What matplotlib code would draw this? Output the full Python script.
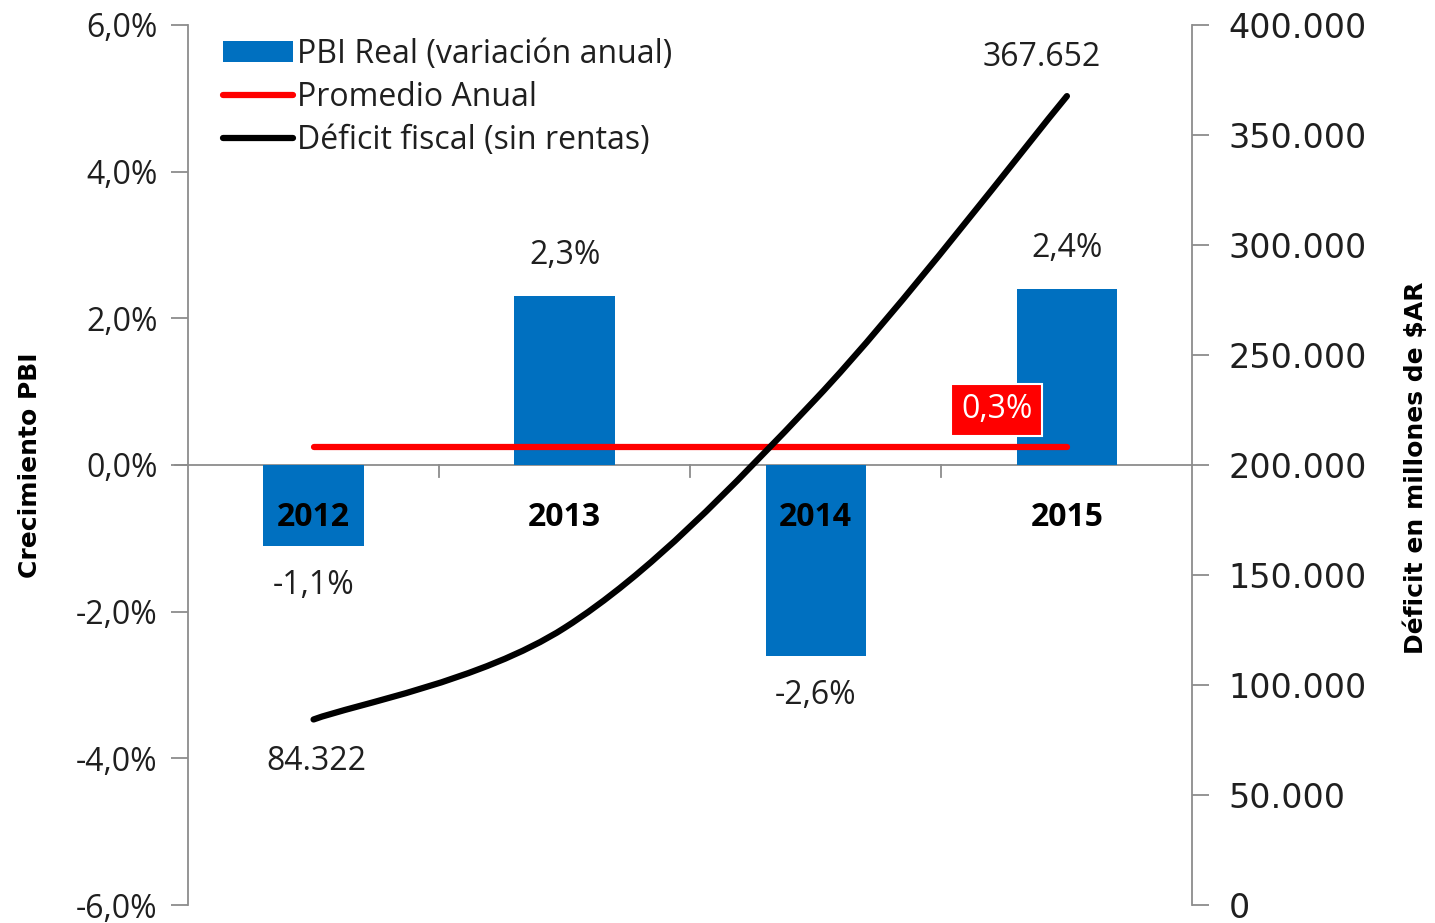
import matplotlib
matplotlib.use("Agg")
import matplotlib.pyplot as plt
import numpy as np
from matplotlib.path import Path
from matplotlib.patches import PathPatch
from matplotlib.lines import Line2D
from matplotlib.ticker import FuncFormatter, MultipleLocator

# Data
years = ["2012", "2013", "2014", "2015"]
pbi_growth = [-1.1, 2.3, -2.6, 2.4]          # % anual
pbi_labels = ["-1,1%", "2,3%", "-2,6%", "2,4%"]
promedio = [0.25, 0.25, 0.25, 0.25]          # promedio anual (0,3%)
promedio_label = "0,3%"
deficit = [84322, 126000, 230000, 367652]    # millones de $AR
deficit_labels = ["84.322", "", "", "367.652"]

BLUE = "#0070C0"
GRAY = "#8C8C8C"
TXT = "#1F1F1F"
BODY = ["Open Sans", "DejaVu Sans"]
NARROW = ["Liberation Sans Narrow", "DejaVu Sans"]
FS = 23

fig = plt.figure(figsize=(14.35, 9.23), dpi=100)
ax = fig.add_axes([0.131, 0.0195, 0.7, 0.9535])
ax2 = ax.twinx()
ax.set_zorder(ax2.get_zorder() - 1)
ax.patch.set_visible(False)

x = np.arange(len(years))

# bars
ax.bar(x, pbi_growth, width=0.4, color=BLUE, zorder=2)
ax.set_xlim(-0.5, len(years) - 0.5)
ax.set_ylim(-6, 6)
ax.yaxis.set_major_locator(MultipleLocator(2))
ax.yaxis.set_major_formatter(FuncFormatter(lambda v, p: f"{v:.1f}%".replace(".", ",")))

# zero axis line and category separators
ax.axhline(0, color=GRAY, lw=1.3, zorder=1)
for b in np.arange(0.5, len(years) - 1, 1.0):
    ax.plot([b, b], [0, -0.17], color=GRAY, lw=1.3, zorder=1, clip_on=False)
ax.plot([-0.5 - 0.05, -0.5], [0, 0], color=GRAY, lw=1.3, clip_on=False)
ax.set_xticks([])
for xi, yr in zip(x, years):
    ax.text(xi, -0.72, yr, ha="center", va="center", fontsize=FS,
            fontweight="bold", family=BODY, color="black", zorder=5)

# bar labels
for xi, v, lab in zip(x, pbi_growth, pbi_labels):
    off = 0.55 if v > 0 else -0.55
    ax.text(xi, v + off, lab, ha="center", va="center", fontsize=FS,
            family=BODY, color=TXT)

# average line
ax.plot(x, promedio, color="#FF0000", lw=4.5, solid_capstyle="round", zorder=3)
ax.text(x[-1] - 0.28, promedio[-1] + 0.5, promedio_label, ha="center", va="center",
        fontsize=FS, family=BODY, color="white", zorder=6,
        bbox=dict(boxstyle="square,pad=0.3", fc="#FF0000", ec="white", lw=1.5))

# spines/ticks left
for s in ["top", "bottom", "right"]:
    ax.spines[s].set_visible(False)
ax.spines["left"].set_color(GRAY)
ax.spines["left"].set_linewidth(1.3)
ax.tick_params(axis="y", direction="out", length=12, width=1.3, color=GRAY,
               labelsize=FS, labelcolor=TXT, pad=10)
for t in ax.get_yticklabels():
    t.set_family(BODY)
ax.set_ylabel("Crecimiento PBI", fontsize=18, fontweight="bold", family=NARROW)
ax.yaxis.set_label_coords(-0.145, 0.5)

# deficit smooth line (Catmull-Rom as cubic Bezier)
ax2.set_ylim(0, 400000)
pts = np.column_stack([x, deficit]).astype(float)
verts = [tuple(pts[0])]
codes = [Path.MOVETO]
n = len(pts)
for i in range(n - 1):
    p0 = pts[max(i - 1, 0)]
    p1 = pts[i]
    p2 = pts[i + 1]
    p3 = pts[min(i + 2, n - 1)]
    c1 = p1 + (p2 - p0) / 6.0
    c2 = p2 - (p3 - p1) / 6.0
    verts += [tuple(c1), tuple(c2), tuple(p2)]
    codes += [Path.CURVE4] * 3
patch = PathPatch(Path(verts, codes), fc="none", ec="black", lw=4.5,
                  capstyle="round", zorder=4)
ax2.add_patch(patch)
ax2.text(x[0] + 0.01, deficit[0] - 19000, deficit_labels[0], ha="center", va="center",
         fontsize=FS, family=BODY, color=TXT)
ax2.text(x[-1] - 0.1, deficit[-1] + 17500, deficit_labels[-1], ha="center",
         va="center", fontsize=FS, family=BODY, color=TXT)

ax2.yaxis.set_major_locator(MultipleLocator(50000))
ax2.yaxis.set_major_formatter(FuncFormatter(lambda v, p: f"{int(v):,}".replace(",", ".")))
for s in ["top", "bottom", "left"]:
    ax2.spines[s].set_visible(False)
ax2.spines["right"].set_color(GRAY)
ax2.spines["right"].set_linewidth(1.3)
ax2.tick_params(axis="y", direction="out", length=12, width=1.3, color=GRAY,
                labelsize=24, labelcolor=TXT, pad=14)
for t in ax2.get_yticklabels():
    t.set_family("DejaVu Sans")
ax2.set_ylabel("Déficit en millones de $AR", fontsize=18, fontweight="bold",
               family=NARROW)
ax2.yaxis.set_label_coords(1.21, 0.497)

# legend
handles = [
    plt.Rectangle((0, 0), 1, 1, fc=BLUE, ec="none"),
    Line2D([], [], color="#FF0000", lw=4.5, solid_capstyle="round"),
    Line2D([], [], color="black", lw=4.5, solid_capstyle="round"),
]
names = ["PBI Real (variación anual)", "Promedio Anual", "Déficit fiscal (sin rentas)"]
leg = ax2.legend(handles, names, loc="upper left", bbox_to_anchor=(0.022, 1.0),
                 frameon=False, prop={"family": BODY, "size": FS},
                 handlelength=2.2, handleheight=0.65, handletextpad=0.12,
                 labelspacing=0.32, borderaxespad=0)
for t in leg.get_texts():
    t.set_color(TXT)

fig.savefig("out.png", dpi=100, facecolor="white")
